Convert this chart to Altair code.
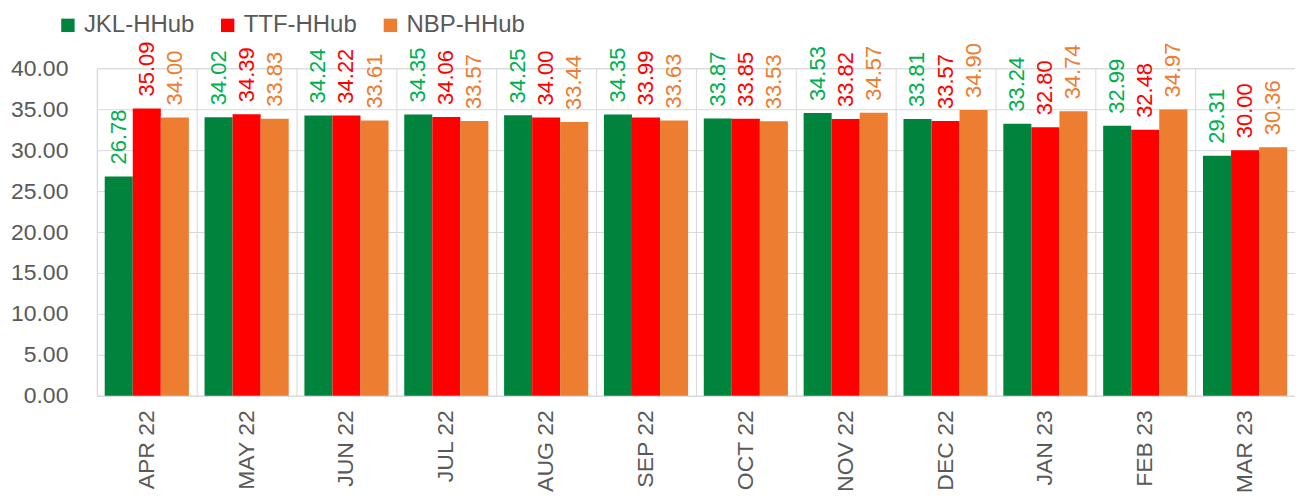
import altair as alt
import pandas as pd

months = ["APR 22", "MAY 22", "JUN 22", "JUL 22", "AUG 22", "SEP 22",
          "OCT 22", "NOV 22", "DEC 22", "JAN 23", "FEB 23", "MAR 23"]
series = ["JKL-HHub", "TTF-HHub", "NBP-HHub"]
jkl = [26.78, 34.02, 34.24, 34.35, 34.25, 34.35, 33.87, 34.53, 33.81, 33.24, 32.99, 29.31]
ttf = [35.09, 34.39, 34.22, 34.06, 34.00, 33.99, 33.85, 33.82, 33.57, 32.80, 32.48, 30.00]
nbp = [34.00, 33.83, 33.61, 33.57, 33.44, 33.63, 33.53, 34.57, 34.90, 34.74, 34.97, 30.36]
bar_colors = ["#00843D", "#FF0000", "#ED7D31"]
label_colors = ["#00B050", "#FF0000", "#ED7D31"]
y_ticks = [0, 5, 10, 15, 20, 25, 30, 35, 40]

rows = []
for s, vals in zip(series, [jkl, ttf, nbp]):
    for m, v in zip(months, vals):
        rows.append({"month": m, "series": s, "value": v})
df = pd.DataFrame(rows)

FONT = "Liberation Sans"
GRID = "#d9d9d9"
TXT = "#595959"

x_enc = alt.X("month:N", sort=months,
              scale=alt.Scale(paddingInner=0, paddingOuter=0),
              axis=alt.Axis(title=None, labelAngle=270, ticks=False,
                            domainColor=GRID, grid=True, gridColor=GRID,
                            bandPosition=0, labelPadding=14,
                            labelFontSize=23, labelColor=TXT, labelFont=FONT))
xo_enc = alt.XOffset("series:N", sort=series,
                     scale=alt.Scale(paddingInner=0, paddingOuter=0.28))
y_enc = alt.Y("value:Q", scale=alt.Scale(domain=[0, 40]),
              axis=alt.Axis(title=None, values=y_ticks, format=".2f",
                            domain=False, ticks=False, gridColor=GRID,
                            labelPadding=29, labelFontSize=23,
                            labelColor=TXT, labelFont=FONT))

bars = alt.Chart(df).mark_bar().encode(
    x=x_enc, xOffset=xo_enc, y=y_enc,
    color=alt.Color("series:N", sort=series,
                    scale=alt.Scale(domain=series, range=bar_colors),
                    legend=alt.Legend(title=None, orient="none",
                                      direction="horizontal",
                                      legendX=-41, legendY=-55,
                                      symbolType="square", symbolSize=180,
                                      symbolStrokeWidth=0,
                                      labelFontSize=24, labelColor=TXT,
                                      labelFont=FONT, columnPadding=21,
                                      labelOffset=4, padding=0)),
)

labels = alt.Chart(df).mark_text(
    angle=270, align="left", baseline="middle", dx=12,
    fontSize=22, font=FONT
).encode(
    x=x_enc, xOffset=xo_enc, y=y_enc,
    text=alt.Text("value:Q", format=".2f"),
    color=alt.Color("series:N", sort=series,
                    scale=alt.Scale(domain=series, range=label_colors),
                    legend=None),
)

chart = alt.layer(bars, labels).resolve_scale(color="independent").properties(
    width=1200, height=328,
    autosize=alt.AutoSizeParams(type="none"),
    padding={"left": 89, "top": 60, "right": 0, "bottom": 100},
).configure_view(stroke=GRID, strokeWidth=1).configure(background="white")

chart.save("out.html", embed_options={"renderer": "svg", "actions": False})
